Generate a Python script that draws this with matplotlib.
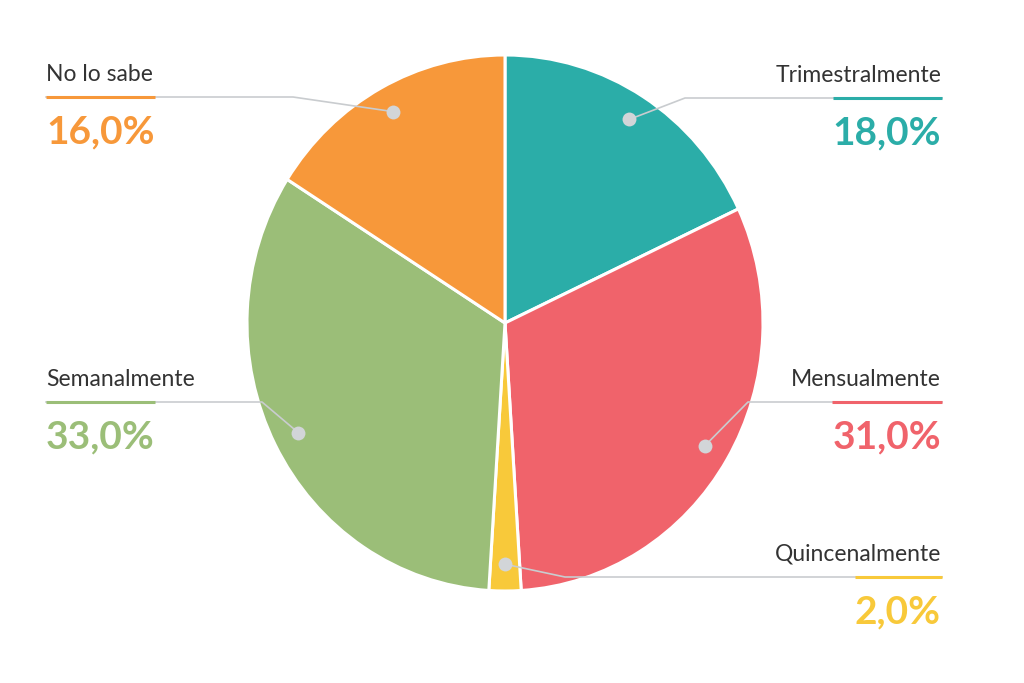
import matplotlib
matplotlib.use('Agg')
import matplotlib.pyplot as plt
import numpy as np

categories = ['Trimestralmente', 'Mensualmente', 'Quincenalmente', 'Semanalmente', 'No lo sabe']
values = [18.0, 31.0, 2.0, 33.0, 16.0]
colors = ['#2BADA8', '#F0636B', '#F8C93A', '#9BBE78', '#F7983A']
pct_labels = ['18,0%', '31,0%', '2,0%', '33,0%', '16,0%']

# layout per label: side, line_y (px), elbow_x (px)
layout = {
    'Trimestralmente': ('right', 98, 685),
    'Mensualmente': ('right', 402, 748),
    'Quincenalmente': ('right', 577, 565),
    'Semanalmente': ('left', 402, 262),
    'No lo sabe': ('left', 97, 293),
}

W, H = 1024, 683
fig = plt.figure(figsize=(W / 100, H / 100), dpi=100)
fig.patch.set_facecolor('white')

cx, cy, rx, ry = 505, 323, 258, 268
ax = fig.add_axes([(cx - rx) / W, (H - cy - ry) / H, 2 * rx / W, 2 * ry / H])
wedges, _ = ax.pie(values, colors=colors, startangle=90, counterclock=False, radius=1,
                   wedgeprops=dict(edgecolor='white', linewidth=2.2))
ax.set_xlim(-1, 1)
ax.set_ylim(-1, 1)
ax.set_aspect('auto')
ax.axis('off')

ov = fig.add_axes([0, 0, 1, 1], zorder=5)
ov.set_xlim(0, W)
ov.set_ylim(H, 0)
ov.axis('off')
ov.patch.set_alpha(0)

LEFT_X, RIGHT_X = 46, 942
grey = '#C9CCCF'
texts = []
for w, name, pct, c in zip(wedges, categories, pct_labels, colors):
    side, ly, ex = layout[name]
    theta = np.deg2rad((w.theta1 + w.theta2) / 2)
    disp = ax.transData.transform((0.9 * np.cos(theta), 0.9 * np.sin(theta)))
    dx, dy = ov.transData.inverted().transform(disp)
    tx = LEFT_X if side == 'left' else RIGHT_X - 1
    ha = 'left' if side == 'left' else 'right'
    ov.text(tx, ly - 16, name, ha=ha, va='baseline', fontsize=16.5,
            family='Lato', color='#333333')
    pt = ov.text(tx, ly + 46, pct, ha=ha, va='baseline', fontsize=28,
                 family='Lato', fontweight='bold', color=c)
    texts.append((pt, side, ly, ex, dx, dy, c))

fig.canvas.draw()
renderer = fig.canvas.get_renderer()
inv = ov.transData.inverted()
for pt, side, ly, ex, dx, dy, c in texts:
    bb = pt.get_window_extent(renderer)
    x0 = inv.transform((bb.x0, bb.y0))[0]
    x1 = inv.transform((bb.x1, bb.y0))[0]
    if side == 'left':
        ov.plot([LEFT_X, ex, dx], [ly, ly, dy], color=grey, lw=1.2, zorder=2,
                solid_joinstyle='round')
        ov.plot([LEFT_X, x1], [ly, ly], color=c, lw=2.2, zorder=3, solid_capstyle='butt')
    else:
        ov.plot([RIGHT_X, ex, dx], [ly, ly, dy], color=grey, lw=1.2, zorder=2,
                solid_joinstyle='round')
        ov.plot([x0, RIGHT_X], [ly, ly], color=c, lw=2.2, zorder=3, solid_capstyle='butt')
    ov.plot([dx], [dy], marker='o', markersize=10, color='#D2D5D8', zorder=4,
            markeredgewidth=0)

fig.savefig('out.png', dpi=100, facecolor='white')
